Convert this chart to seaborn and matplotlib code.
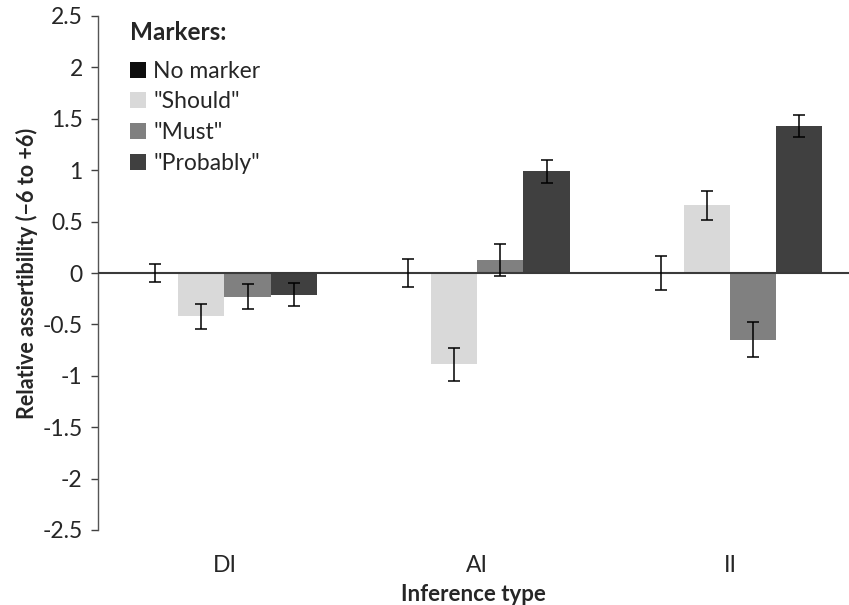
import matplotlib
matplotlib.use("Agg")
import matplotlib.pyplot as plt
import seaborn as sns
import pandas as pd
import numpy as np
from matplotlib.patches import Patch

# Data
inference_types = ["DI", "AI", "II"]
markers = ["No marker", "\"Should\"", "\"Must\"", "\"Probably\""]
no_marker = [0.0, 0.0, 0.0]
should = [-0.42, -0.89, 0.66]
must = [-0.23, 0.13, -0.65]
probably = [-0.21, 0.99, 1.43]
err_no_marker = [0.09, 0.14, 0.17]
err_should = [0.12, 0.165, 0.14]
err_must = [0.12, 0.155, 0.17]
err_probably = [0.11, 0.11, 0.105]

colors = ["#0d0d0d", "#d9d9d9", "#808080", "#404040"]

values = [no_marker, should, must, probably]
errors = [err_no_marker, err_should, err_must, err_probably]

rows = []
for m, vals in zip(markers, values):
    for t, v in zip(inference_types, vals):
        rows.append({"Inference type": t, "Marker": m, "value": v})
df = pd.DataFrame(rows)

sns.set_style("white")
plt.rcParams["font.family"] = ["Lato", "DejaVu Sans"]
plt.rcParams["axes.unicode_minus"] = False

fig = plt.figure(figsize=(8.49, 6.05), dpi=100)
ax = fig.add_axes([98 / 849, 75 / 605, 751 / 849, 514 / 605])

sns.barplot(data=df, x="Inference type", y="value", hue="Marker",
            hue_order=markers, order=inference_types, palette=colors,
            width=0.73, errorbar=None, linewidth=0, ax=ax, legend=False)

# error bars centred on each bar's value
for cont, vals, errs in zip(ax.containers, values, errors):
    for bar, v, e in zip(cont, vals, errs):
        xc = bar.get_x() + bar.get_width() / 2
        ax.errorbar(xc, v, yerr=e, fmt="none", ecolor="black",
                    elinewidth=1.1, capsize=4, capthick=1.1, zorder=5)

ax.axhline(0, color="#3a3a3a", lw=1.5, zorder=4)

ax.set_ylim(-2.5, 2.5)
ax.set_xlim(-0.5, 2.47)
yt = np.arange(-2.5, 2.51, 0.5)
ax.set_yticks(yt)
ax.set_yticklabels([("%g" % v) for v in yt], fontsize=16.5)
ax.tick_params(axis="y", direction="out", length=5, width=1, color="#404040", pad=6, left=True)
ax.tick_params(axis="x", length=0, labelsize=16.5, pad=18)

for s in ["top", "right", "bottom"]:
    ax.spines[s].set_visible(False)
ax.spines["left"].set_color("#555555")
ax.spines["left"].set_linewidth(1)

ax.set_xlabel("Inference type", fontsize=16, fontweight="bold", labelpad=6)
ax.set_ylabel("Relative assertibility (\u22126 to +6)", fontsize=15.5,
              fontweight="bold", labelpad=3)

handles = [Patch(facecolor=c, edgecolor="none") for c in colors]
leg = ax.legend(handles, markers, title="Markers:", loc="upper left",
                bbox_to_anchor=(0.043, 0.99), frameon=False, fontsize=16.5,
                title_fontproperties={"weight": "bold", "size": 17.5},
                handlelength=0.7, handleheight=0.7, handletextpad=0.3,
                labelspacing=0.42, alignment="left", borderpad=0, borderaxespad=0)
# a little more room between the legend title and its entries
leg._legend_box.sep = 12

fig.savefig("out.png", dpi=100)
